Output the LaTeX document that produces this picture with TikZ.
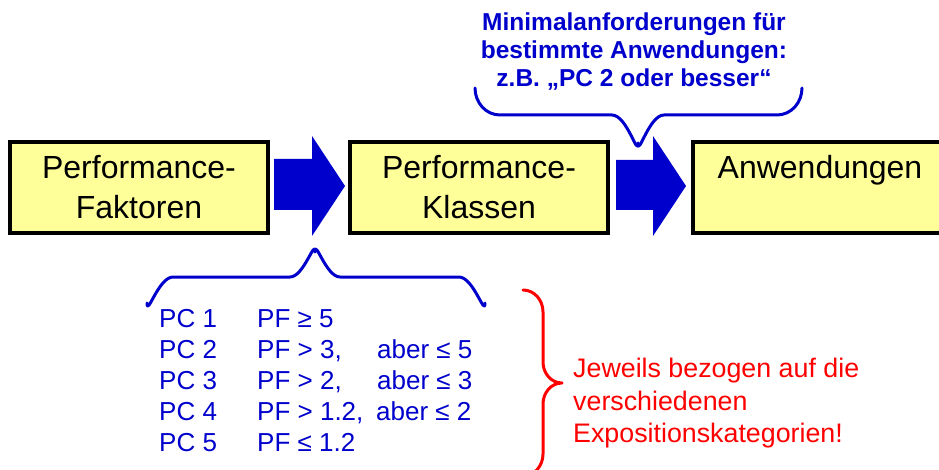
\documentclass[tikz,border=0pt]{standalone}
\usepackage{fontspec}
\setmainfont{Liberation Sans}
\definecolor{boxfill}{HTML}{FFFF99}
\definecolor{dblue}{HTML}{0000CC}
\definecolor{bred}{HTML}{FF0000}
\begin{document}
\begin{tikzpicture}[x=1pt,y=-1pt,
  box/.style={draw=black,line width=3.5pt,fill=boxfill,inner sep=0pt},
  boxtext/.style={anchor=base,inner sep=0pt,font=\fontsize{32}{40}\selectfont},
  toptext/.style={anchor=base,inner sep=0pt,text=dblue,font=\fontsize{24.5}{28}\selectfont\bfseries},
  pctext/.style={anchor=base west,inner sep=0pt,text=dblue,font=\fontsize{26}{31}\selectfont},
  redtext/.style={anchor=base west,inner sep=0pt,text=bred,font=\fontsize{26.8}{32}\selectfont},
  blockarrow/.style={fill=dblue,draw=none},
  brace/.style={line width=3pt,line cap=round,line join=round}
]
\useasboundingbox (0,0) rectangle (939,470);

% boxes
\node[box,minimum width=258pt,minimum height=91pt] (b1) at (139,187.5) {};
\node[box,minimum width=258pt,minimum height=91pt] (b2) at (479,187.5) {};
\node[box,minimum width=255pt,minimum height=91pt] (b3) at (820.5,187.5) {};

\node[boxtext] (t1a) at (139,179) {Performance-};
\node[boxtext] (t1b) at (139,219) {Faktoren};
\node[boxtext] (t2a) at (479,179) {Performance-};
\node[boxtext] (t2b) at (479,219) {Klassen};
\node[boxtext] (t3a) at (820,179) {Anwendungen};

% block arrows
\fill[blockarrow] (274,159) -- (312,159) -- (312,136) -- (345,186) -- (312,236) -- (312,210) -- (274,210) -- cycle;
\fill[blockarrow] (616,160) -- (653,160) -- (653,136) -- (686,186) -- (653,236) -- (653,210) -- (616,210) -- cycle;

% top annotation
\node[toptext] (m1) at (634,31) {Minimalanforderungen für};
\node[toptext] (m2) at (634,59) {bestimmte Anwendungen:};
\node[toptext] (m3) at (634,87) {z.B. „PC 2 oder besser“};
\draw[brace,dblue] (475,88) to[out=-90,in=180] (500,115) -- (612,115)
  to[out=0,in=-90] (638,143) to[out=-90,in=180] (664,115) -- (777,115)
  to[out=0,in=-90] (802,88);

% bottom brace and list
\draw[brace,dblue] (147,303) to[out=-90,in=180] (173,277) -- (290,277)
  to[out=0,in=90] (315,252) to[out=90,in=180] (340,277) -- (459,277)
  to[out=0,in=-90] (485,303);

\node[pctext] (pc1) at (159,327) {PC 1};
\node[pctext] (pc2) at (159,358) {PC 2};
\node[pctext] (pc3) at (159,389) {PC 3};
\node[pctext] (pc4) at (159,420) {PC 4};
\node[pctext] (pc5) at (159,451) {PC 5};
\node[pctext] (pf1) at (257,327) {PF ≥ 5};
\node[pctext] (pf2) at (257,358) {PF > 3,};
\node[pctext] (pf3) at (257,389) {PF > 2,};
\node[pctext] (pf4) at (257,420) {PF > 1.2,};
\node[pctext] (pf5) at (257,451) {PF ≤ 1.2};
\node[pctext] (ab2) at (377,358) {aber ≤ 5};
\node[pctext] (ab3) at (377,389) {aber ≤ 3};
\node[pctext] (ab4) at (376,420) {aber ≤ 2};

% red brace and text
\draw[brace,bred] (523,290) to[out=0,in=90] (543,312) -- (543,362)
  to[out=-90,in=180] (562,383) to[out=180,in=90] (543,404) -- (543,454)
  to[out=-90,in=0] (523,476);
\node[redtext] (r1) at (573,377) {Jeweils bezogen auf die};
\node[redtext] (r2) at (573,410) {verschiedenen};
\node[redtext] (r3) at (573,442) {Expositionskategorien!};
\end{tikzpicture}
\end{document}
